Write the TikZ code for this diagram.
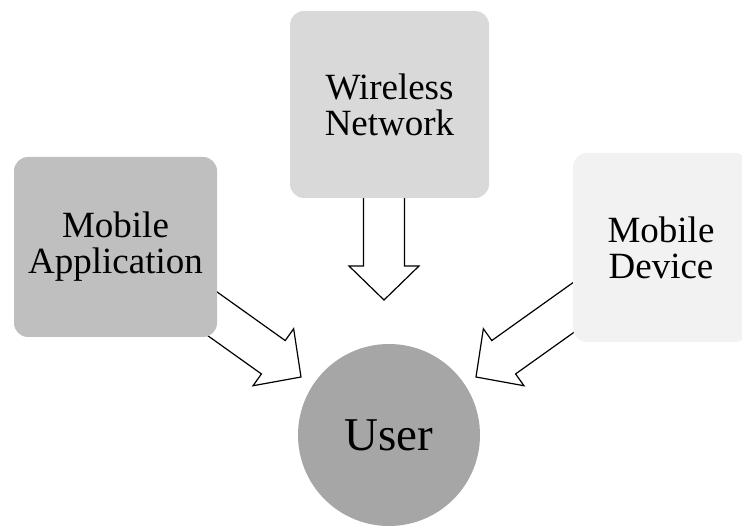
\documentclass[tikz,border=0pt]{standalone}
\usepackage{fontspec}
\setmainfont{Liberation Serif}
\begin{document}
\begin{tikzpicture}[x=1pt,y=1pt,
  boxnode/.style={rectangle,rounded corners=14pt,inner sep=0pt,align=center,
    font=\fontsize{37}{36}\selectfont},
  usernode/.style={circle,inner sep=0pt,minimum size=182pt,fill=userfill,
    font=\fontsize{47}{50}\selectfont},
  arrowline/.style={draw=black,line width=1.2pt,fill=white,line join=miter}]
\definecolor{appfill}{HTML}{BFBFBF}
\definecolor{netfill}{HTML}{D9D9D9}
\definecolor{devfill}{HTML}{F2F2F2}
\definecolor{userfill}{HTML}{A6A6A6}
\useasboundingbox (0,0) rectangle (742,530);
\clip (0,0) rectangle (742,530);
\newcommand\blockarrow[3]{%
  \begin{scope}[shift={(#1)},rotate=#2]
    \draw[arrowline] (0,0) -- (-34,35) -- (-34,20.5) -- (-#3,20.5) -- (-#3,-20.5)
      -- (-34,-20.5) -- (-34,-35) -- cycle;
  \end{scope}}
% arrow tips
\coordinate (tipnet) at (384,230);
\coordinate (tipapp) at (301,153);
\coordinate (tipdev) at (476,153);
\blockarrow{tipnet}{-90}{112}
\blockarrow{tipapp}{-35.5}{140}
\blockarrow{tipdev}{215.5}{140}
% nodes
\node[boxnode,fill=appfill,minimum width=203pt,minimum height=180pt] (app) at (115.5,283) {Mobile\\Application};
\node[boxnode,fill=netfill,minimum width=199pt,minimum height=187pt] (net) at (389.5,425.5) {Wireless\\Network};
\node[boxnode,fill=devfill,minimum width=176pt,minimum height=189pt] (dev) at (661,282.5) {Mobile\\Device};
\node[usernode] (user) at (389,95) {User};
\end{tikzpicture}
\end{document}
